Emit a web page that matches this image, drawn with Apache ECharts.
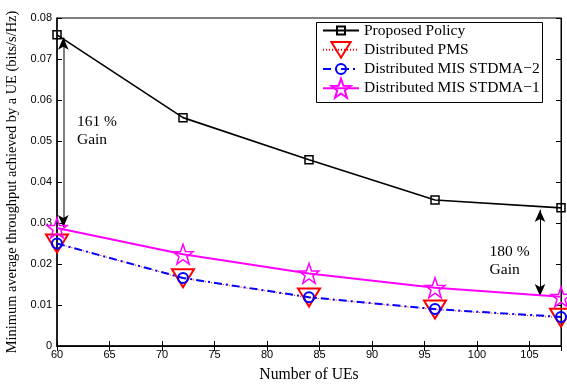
<!DOCTYPE html>
<html>
<head>
<meta charset="utf-8">
<script src="https://cdn.jsdelivr.net/npm/echarts@6/dist/echarts.min.js"></script>
<style>
html,body{margin:0;padding:0;background:#fff;}
#chart{width:567px;height:387px;}
</style>
</head>
<body>
<div id="chart"></div>
<script>
const ues = [60, 72, 84, 96, 108];
const proposed = [0.0759, 0.0557, 0.0454, 0.0356, 0.0337];
const pms = [0.0250, 0.0165, 0.0118, 0.0089, 0.0069];
const mis2 = [0.0250, 0.0166, 0.0119, 0.0090, 0.0071];
const mis1 = [0.0288, 0.0224, 0.0177, 0.0142, 0.0120];
const seriesNames = ['Proposed Policy', 'Distributed PMS', 'Distributed MIS STDMA\u22122', 'Distributed MIS STDMA\u22121'];
const gainLeft = {x: 60.6, top: 0.0752, bottom: 0.0290, labelX: 61.9, labelY: 0.0524, text: '161 %\nGain'};
const gainRight = {x: 106.0, top: 0.0332, bottom: 0.0122, labelX: 101.2, labelY: 0.0208, text: '180 %\nGain'};

const serif = 'Liberation Serif';
const sans = 'Liberation Sans';
// marker paths (padded with move-to points so legend and plot markers keep the same size)
const B = 9.6;
const pad = 'M' + (-B) + ',' + (-B) + ' M' + B + ',' + B + ' ';
const squarePath = 'path://' + pad + 'M-4,-4 L4,-4 L4,4 L-4,4 Z';
const circlePath = 'path://' + pad + 'M5,0 A5,5 0 1,1 -5,0 A5,5 0 1,1 5,0 Z';
const triPath = 'path://M-11,-11 M11,11 M-11,-9 L11,-9 L0,9 Z';
const starPath = 'path://M0,-10 L2.35,-3.24 L9.51,-3.09 L3.8,1.24 L5.88,8.09 L0,4 L-5.88,8.09 L-3.8,1.24 L-9.51,-3.09 L-2.35,-3.24 Z';
const pair = (arr) => ues.map((x, i) => [x, arr[i]]);

const chart = echarts.init(document.getElementById('chart'), null, {renderer: 'canvas'});
const annoLabel = {show: true, position: 'inside', align: 'left', verticalAlign: 'middle', color: '#000', fontFamily: serif, fontSize: 15.5, lineHeight: 18};
chart.setOption({
  animation: false,
  backgroundColor: '#fff',
  grid: {left: 57, right: 6, top: 18, bottom: 41, containLabel: false, outerBoundsMode: 'none', show: true, borderColor: '#000', borderWidth: 1, backgroundColor: 'transparent'},
  graphic: [{
    type: 'rect', z: 90, silent: true,
    shape: {x: 316.5, y: 22.5, width: 226, height: 80},
    style: {fill: '#fff', stroke: '#000', lineWidth: 1}
  }],
  legend: {
    left: 322, top: 20, orient: 'vertical', z: 100,
    padding: 0, itemGap: -2, itemWidth: 36, itemHeight: 24,
    textStyle: {fontFamily: serif, fontSize: 15.5, color: '#000'},
    data: seriesNames
  },
  xAxis: [{
    type: 'value', min: 60, max: 108, interval: 5,
    name: 'Number of UEs', nameLocation: 'middle', nameGap: 21,
    nameTextStyle: {fontFamily: serif, fontSize: 15.7, color: '#000'},
    axisLine: {show: true, lineStyle: {color: '#000', width: 1.5}},
    axisTick: {inside: true, length: 5, lineStyle: {color: '#000'}},
    axisLabel: {fontFamily: sans, fontSize: 11, color: '#000', margin: 3, showMaxLabel: false},
    splitLine: {show: false}
  }, {
    type: 'value', min: 60, max: 108, interval: 5, position: 'top',
    axisLine: {show: true, lineStyle: {color: '#000', width: 1}},
    axisTick: {inside: true, length: 5, lineStyle: {color: '#000'}},
    axisLabel: {show: false}, splitLine: {show: false}
  }],
  yAxis: [{
    type: 'value', min: 0, max: 0.08, interval: 0.01,
    name: 'Minimum average throughput achieved by a UE (bits/s/Hz)', nameLocation: 'middle', nameGap: 38,
    nameTextStyle: {fontFamily: serif, fontSize: 14.4, color: '#000'},
    axisLine: {show: true, lineStyle: {color: '#000', width: 1.5}},
    axisTick: {inside: true, length: 5, lineStyle: {color: '#000'}},
    axisLabel: {fontFamily: sans, fontSize: 11, color: '#000', margin: 5},
    splitLine: {show: false}
  }, {
    type: 'value', min: 0, max: 0.08, interval: 0.01, position: 'right',
    axisLine: {show: true, lineStyle: {color: '#000', width: 1}},
    axisTick: {inside: true, length: 5, lineStyle: {color: '#000'}},
    axisLabel: {show: false}, splitLine: {show: false}
  }],
  series: [
    {
      name: seriesNames[0], type: 'line', data: pair(proposed), z: 5,
      symbol: squarePath, symbolSize: 2 * B,
      lineStyle: {color: '#000', width: 1.6},
      itemStyle: {color: 'rgba(0,0,0,0)', borderColor: '#000', borderWidth: 1.5},
      markLine: {
        silent: true, symbol: ['none', 'none'], label: {show: false},
        lineStyle: {color: '#808080', width: 2, type: 'solid'},
        data: [
          [{coord: [gainLeft.x, gainLeft.top]}, {coord: [gainLeft.x, gainLeft.bottom]}],
          [{coord: [gainLeft.x, gainLeft.top - 0.0004], symbol: 'none', lineStyle: {color: '#000', width: 1}}, {coord: [gainLeft.x, gainLeft.top], symbol: 'arrow', symbolSize: [8, 12], lineStyle: {color: '#000', width: 1}}],
          [{coord: [gainLeft.x, gainLeft.bottom + 0.0004], symbol: 'none', lineStyle: {color: '#000', width: 1}}, {coord: [gainLeft.x, gainLeft.bottom], symbol: 'arrow', symbolSize: [8, 12], lineStyle: {color: '#000', width: 1}}],
          [{coord: [gainRight.x, gainRight.top], symbol: 'arrow', symbolSize: [8, 12], lineStyle: {color: '#000', width: 1}}, {coord: [gainRight.x, gainRight.bottom], symbol: 'arrow', symbolSize: [8, 12], lineStyle: {color: '#000', width: 1}}]
        ]
      },
      markPoint: {
        silent: true, symbol: 'circle', symbolSize: 1,
        itemStyle: {color: 'rgba(0,0,0,0)'},
        label: annoLabel,
        data: [
          {coord: [gainLeft.labelX, gainLeft.labelY], label: Object.assign({}, annoLabel, {formatter: gainLeft.text})},
          {coord: [gainRight.labelX, gainRight.labelY], label: Object.assign({}, annoLabel, {formatter: gainRight.text})}
        ]
      }
    },
    {
      name: seriesNames[1], type: 'line', data: pair(pms), z: 4,
      symbol: triPath, symbolSize: 22,
      lineStyle: {color: '#ff0000', width: 1, type: [1, 2]},
      itemStyle: {color: 'rgba(0,0,0,0)', borderColor: '#ff0000', borderWidth: 2}
    },
    {
      name: seriesNames[2], type: 'line', data: pair(mis2), z: 6,
      symbol: circlePath, symbolSize: 2 * B,
      lineStyle: {color: '#0000ff', width: 2, type: [8, 4, 2, 4]},
      itemStyle: {color: 'rgba(0,0,0,0)', borderColor: '#0000ff', borderWidth: 2}
    },
    {
      name: seriesNames[3], type: 'line', data: pair(mis1), z: 7,
      symbol: starPath, symbolSize: 20,
      lineStyle: {color: '#ff00ff', width: 2},
      itemStyle: {color: 'rgba(0,0,0,0)', borderColor: '#ff00ff', borderWidth: 1.5}
    }
  ]
});
</script>
</body>
</html>
